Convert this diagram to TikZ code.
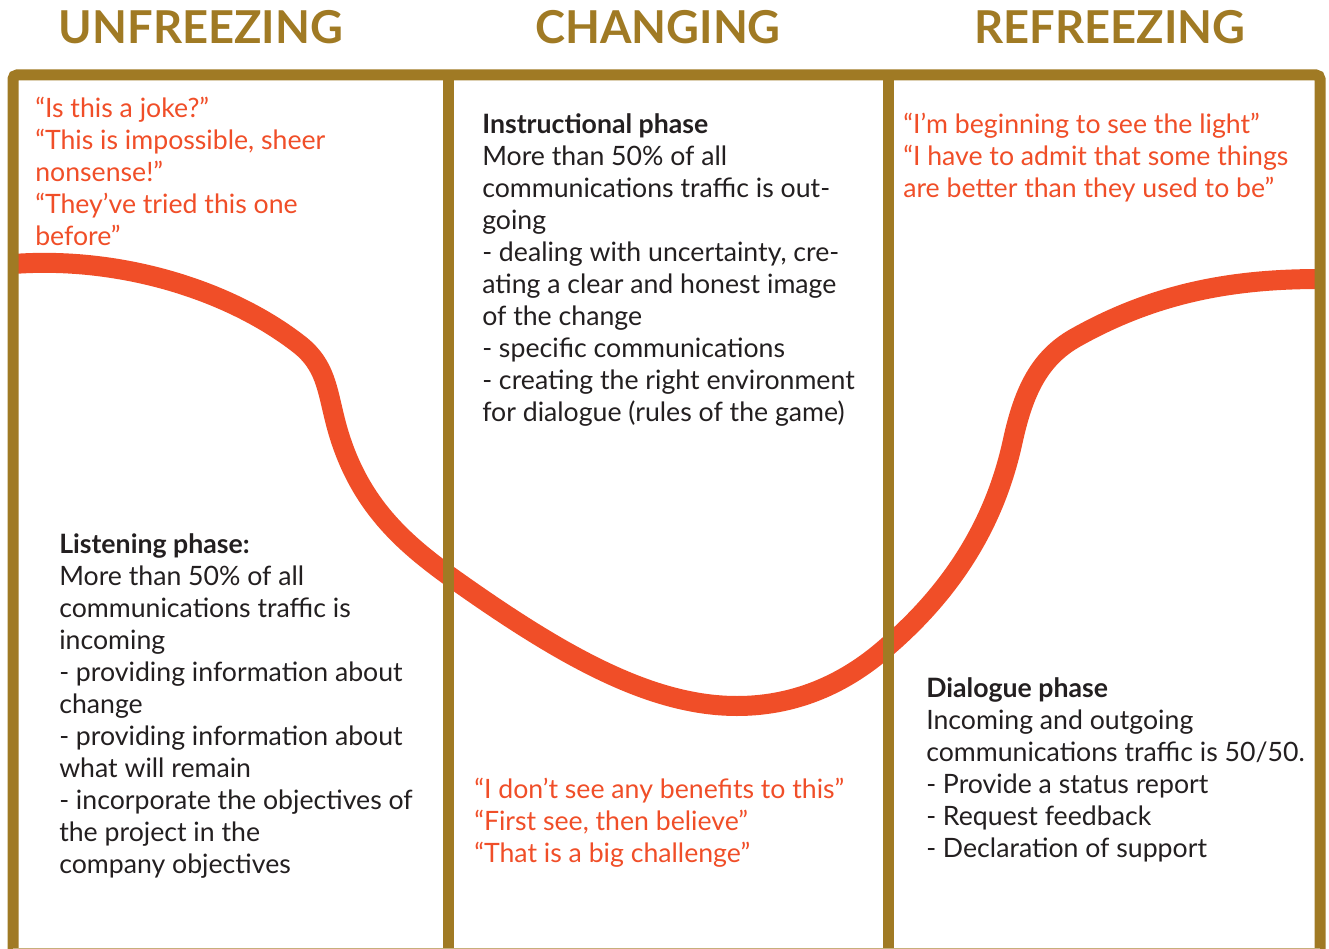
\documentclass[tikz,border=0pt]{standalone}
\usepackage{fontspec}
\setmainfont{Lato}
\usetikzlibrary{math}
\definecolor{qgold}{RGB}{160,122,36}
\definecolor{qorange}{RGB}{240,78,40}
\definecolor{qtext}{RGB}{35,31,32}

\begin{document}
\begin{tikzpicture}[x=0.75pt, y=-0.75pt,
  heading/.style={anchor=base, text=qgold, font=\fontsize{34}{40}\selectfont\bfseries},
  quote/.style={anchor=base west, align=left, inner sep=0, text=qorange, font=\fontsize{20}{24}\selectfont},
  body/.style={anchor=base west, align=left, inner sep=0, text=qtext, font=\fontsize{20}{24}\selectfont}]
\tikzmath{
\W=1329; \H=949;
\xl=13; \xa=448; \xb=888; \xr=1320; \yt=75;
}
\useasboundingbox (0,0) rectangle (\W,\H);

% the change curve, drawn under the frame
\draw[qorange, line width=15pt]
  (\xl,264) .. controls (120,256) and (230,290) .. (300,345)
  .. controls (325,365) and (327,388) .. (335,420)
  .. controls (355,500) and (400,540) .. (\xa,575)
  .. controls (560,655) and (650,706) .. (737,706)
  .. controls (800,706) and (850,680) .. (\xb,646)
  .. controls (970,575) and (1000,500) .. (1013,440)
  .. controls (1024,390) and (1040,358) .. (1075,338)
  .. controls (1160,290) and (1240,279) .. (\xr,279);

% frame and dividers
\draw[qgold, line width=8.25pt, rounded corners=3pt] (\xl,\H) -- (\xl,\yt) -- (\xr,\yt) -- (\xr,\H);
\draw[qgold, line width=8.25pt] (\xa,\yt) -- (\xa,\H);
\draw[qgold, line width=8.25pt] (\xb,\yt) -- (\xb,\H);
\draw[qgold!60, line width=0.75pt] (\xl,948) -- (\xr,948);

\node[heading] (unfreeze) at (201,44) {UNFREEZING};
\node[heading] (change) at (658,44) {CHANGING};
\node[heading] (refreeze) at (1110,44) {REFREEZING};

% multi-line nodes sit on the baseline of their last line
\node[quote] (q1) at (35,245) {“Is this a joke?”\\“This is impossible, sheer\\nonsense!”\\“They’ve tried this one\\before”};
\node[body] (listen) at (59,873) {\textbf{Listening phase:}\\More than 50\% of all\\communications traffic is\\incoming\\- providing information about\\change\\- providing information about\\what will remain\\- incorporate the objectives of\\the project in the\\company objectives};

\node[body] (instruct) at (482,421) {\textbf{Instructional phase}\\More than 50\% of all\\communications traffic is out-\\going\\- dealing with uncertainty, cre-\\ating a clear and honest image\\of the change\\- specific communications\\- creating the right environment\\for dialogue (rules of the game)};
\node[quote] (q2) at (474,862) {“I don’t see any benefits to this”\\“First see, then believe”\\“That is a big challenge”};

\node[quote] (q3) at (903,197) {“I’m beginning to see the light”\\“I have to admit that some things\\are better than they used to be”};
\node[body] (dialogue) at (926,857) {\textbf{Dialogue phase}\\Incoming and outgoing\\communications traffic is 50/50.\\- Provide a status report\\- Request feedback\\- Declaration of support};
\end{tikzpicture}
\end{document}
